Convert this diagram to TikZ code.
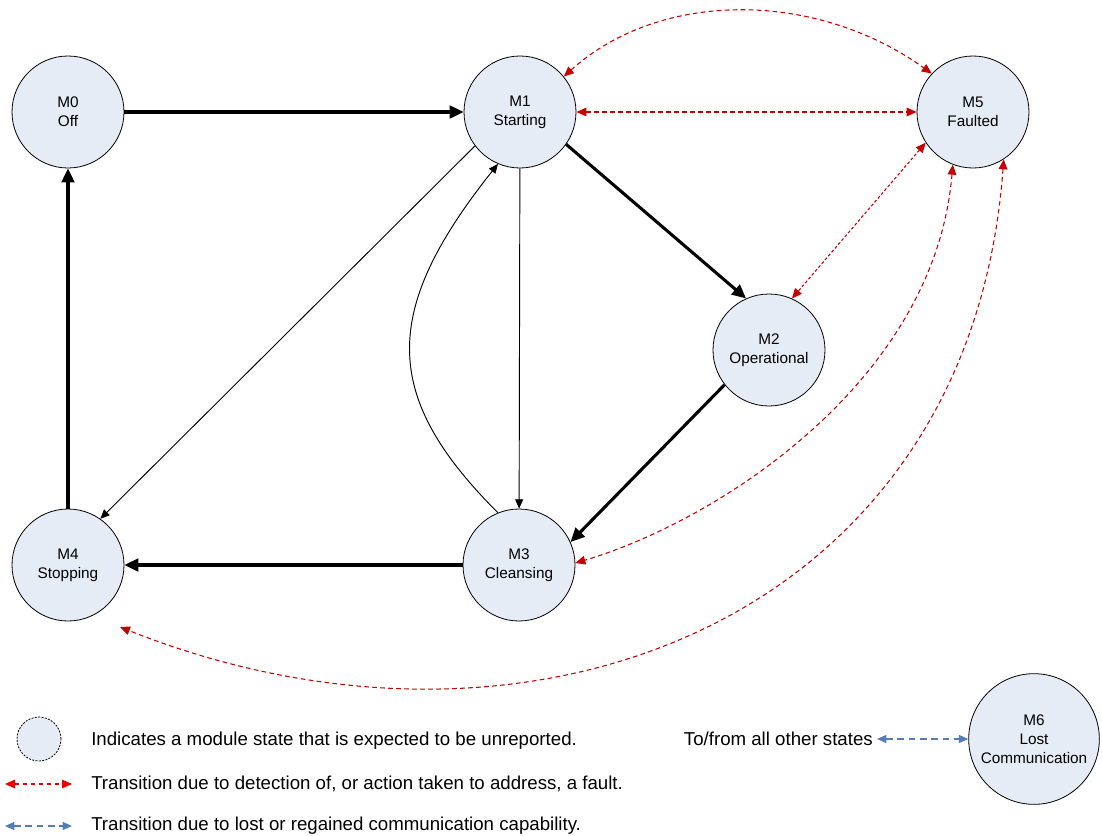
\documentclass[tikz,border=0pt]{standalone}
\usepackage{fontspec}
\setmainfont{Liberation Sans}
\usetikzlibrary{arrows.meta}
\definecolor{statefill}{RGB}{230,236,246}
\definecolor{faultred}{RGB}{200,0,0}
\definecolor{legendred}{RGB}{235,0,0}
\definecolor{commblue}{RGB}{84,125,184}
\begin{document}
\begin{tikzpicture}[x=0.75pt,y=-0.75pt,
  state/.style={circle,draw=black,line width=0.6pt,fill=statefill,
    minimum size=84pt,inner sep=0pt,align=center,
    font=\fontsize{11.5pt}{14.3pt}\selectfont},
  bigstate/.style={state,minimum size=98pt},
  legendstate/.style={circle,draw=black,line width=0.6pt,fill=statefill,
    minimum size=33pt,inner sep=0pt,dash pattern=on 1.5pt off 1pt},
  legendtext/.style={anchor=west,inner sep=0pt,font=\fontsize{14pt}{16pt}\selectfont},
  mainflow/.style={line width=2.3pt,-{Triangle[length=10.5pt,width=9.5pt]}},
  sideflow/.style={line width=0.7pt,-{Triangle[length=7pt,width=6pt]}},
  faultlink/.style={faultred,line width=0.8pt,dash pattern=on 3.5pt off 2.5pt,
    {Triangle[length=7.5pt,width=6.5pt]}-{Triangle[length=7.5pt,width=6.5pt]}},
  faultfine/.style={faultlink,dash pattern=on 2.2pt off 1.6pt},
  commlink/.style={commblue,line width=0.9pt,dash pattern=on 5pt off 3.5pt,
    {Triangle[length=7pt,width=6pt]}-{Triangle[length=7pt,width=6pt]}}]

\useasboundingbox (0,0) rectangle (1102,835);

% module states
\node[state] (m0) at (68,112) {M0\\Off};
\node[state] (m1) at (520,112) {M1\\Starting};
\node[state] (m5) at (973,112) {M5\\Faulted};
\node[state] (m2) at (769,350) {M2\\Operational};
\node[state] (m3) at (519,565) {M3\\Cleansing};
\node[state] (m4) at (68,565) {M4\\Stopping};
\node[bigstate] (m6) at (1034,739) {M6\\Lost\\Communication};

% normal sequence
\draw[mainflow] (m0) -- (m1);
\draw[mainflow] (m1.-35) -- (m2.114);
\draw[mainflow] (m2.218) -- (m3.24);
\draw[mainflow] (m3) -- (m4);
\draw[mainflow] (m4) -- (m0);

% secondary transitions
\draw[sideflow] (m1.217) -- (m4.55);
\draw[sideflow] (m1) -- (m3);
\draw[sideflow] (m3.112) .. controls (381,396) and (381,311) .. (m1.247);

% fault transitions
\coordinate (m4fault) at (120,627);
\draw[faultlink] (m1) -- (m5);
\draw[faultlink] (m1.39) .. controls (660,-10) and (815,-10) .. (m5.137);
\draw[faultfine] (m5.213) -- (m2.66);
\draw[faultlink] (m5.249) .. controls (935,380) and (720,520) .. (m3.2);
\draw[faultlink] (m5.-57) .. controls (970,620) and (530,790) .. (m4fault);

% lost communication
\node[legendtext,anchor=east] (others) at (873,739) {To/from all other states};
\draw[commlink] (others.east) ++(4,0) coordinate (othersend) (othersend) -- (m6.west);

% legend
\node[legendstate] (unrep) at (39,739) {};
\node[legendtext] (unreptext) at (91,741) {Indicates a module state that is expected to be unreported.};
\coordinate (redleft) at (5,784);
\coordinate (redright) at (72,784);
\draw[faultlink,legendred] (redleft) -- (redright);
\node[legendtext] (redtext) at (91,784) {Transition due to detection of, or action taken to address, a fault.};
\coordinate (blueleft) at (5,826);
\coordinate (blueright) at (72,826);
\draw[commlink] (blueleft) -- (blueright);
\node[legendtext] (bluetext) at (91,826) {Transition due to lost or regained communication capability.};
\end{tikzpicture}
\end{document}
